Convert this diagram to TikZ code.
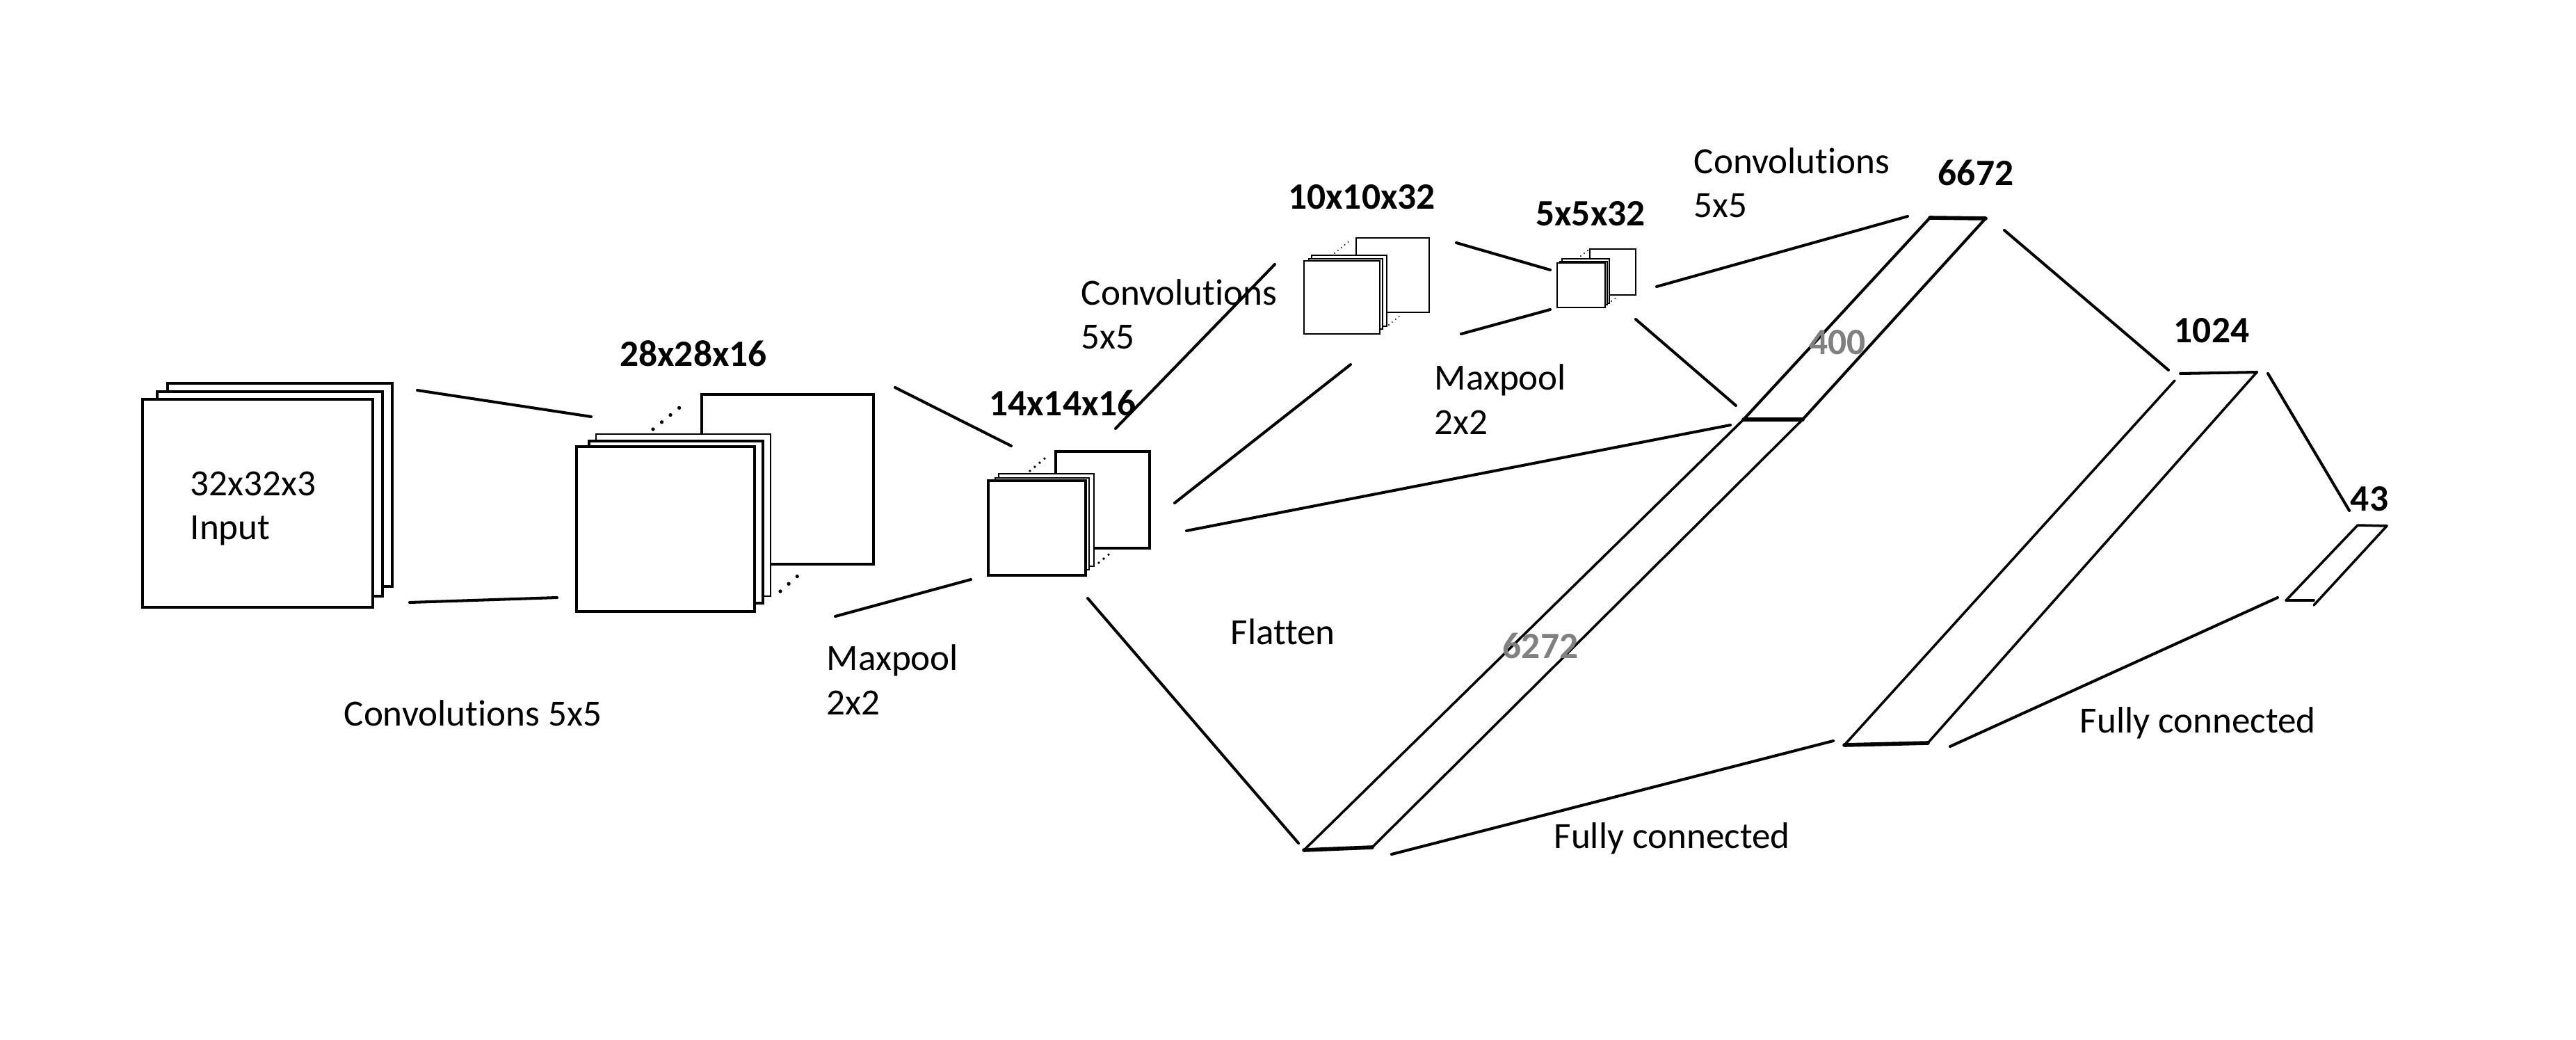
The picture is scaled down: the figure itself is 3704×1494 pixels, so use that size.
\documentclass[tikz,border=0pt]{standalone}
\usepackage{fontspec}
\setmainfont{Carlito}[Ligatures=CommonOff]
\definecolor{sizegray}{RGB}{128,128,128}
\tikzset{
  sheet/.style={draw=black,fill=white,line width=1.2pt},
  thinsheet/.style={draw=black,fill=white,line width=0.75pt},
  tinysheet/.style={draw=black,fill=white,line width=0.45pt},
  conn/.style={draw=black,line width=1.15pt,line cap=round},
  slim/.style={draw=black,line width=1pt,line cap=round},
  bar/.style={draw=black,line width=1.6pt,line cap=round},
  bigdots/.style={draw=black,line width=1.5pt,line cap=round,dash pattern=on 0pt off 4.6pt},
  middots/.style={draw=black,line width=1.1pt,line cap=round,dash pattern=on 0pt off 2.6pt},
  tinydots/.style={draw=black,line width=0.6pt,line cap=round,dash pattern=on 0pt off 1.8pt},
  opname/.style={font=\fontsize{15.1}{18}\selectfont,align=left,anchor=west,inner sep=0pt},
  size/.style={font=\fontsize{15.2}{18}\selectfont\bfseries,inner sep=0pt},
  flatsize/.style={size,text=sizegray}
}

\begin{document}
\begin{tikzpicture}[x=0.01cm,y=-0.01cm]
  \useasboundingbox (0,0) rectangle (3704,1494);

  \coordinate (InA) at (600,561);
  \coordinate (InB) at (850,599);
  \coordinate (InC) at (589,866);
  \coordinate (InD) at (801,859);
  \coordinate (PoolA) at (1287,557);
  \coordinate (PoolB) at (1454,641);
  \coordinate (PoolC) at (1201,886);
  \coordinate (PoolD) at (1396,833);
  \coordinate (ConvA) at (1604,616);
  \coordinate (ConvB) at (1833,380);
  \coordinate (ConvC) at (1689,723);
  \coordinate (ConvD) at (1942,524);
  \coordinate (MaxA) at (2094,349);
  \coordinate (MaxB) at (2229,388);
  \coordinate (MaxC) at (2101,480);
  \coordinate (MaxD) at (2229,445);
  \coordinate (LastA) at (2382,412);
  \coordinate (LastB) at (2743,311);
  \coordinate (LastC) at (2352,459);
  \coordinate (LastD) at (2496,583);
  \coordinate (FlatA) at (1706,763);
  \coordinate (FlatB) at (2488,611);
  \coordinate (FlatC) at (1564,860);
  \coordinate (FlatD) at (1867,1212);
  \coordinate (FcA) at (2882,331);
  \coordinate (FcB) at (3118,532);
  \coordinate (FcC) at (2001,1228);
  \coordinate (FcD) at (2636,1065);
  \coordinate (OutA) at (3261,537);
  \coordinate (OutB) at (3378,734);
  \coordinate (OutC) at (2804,1073);
  \coordinate (OutD) at (3275,859);

  \coordinate (TopL) at (2775,313);
  \coordinate (TopR) at (2855,314);
  \coordinate (MidL) at (2507,603);
  \coordinate (MidR) at (2592,603);
  \coordinate (LowL) at (1875,1222);
  \coordinate (LowR) at (1973,1218);
  \coordinate (HidL) at (2652,1071);
  \coordinate (HidR) at (2772,1068);
  \coordinate (HidTL) at (3135,537);
  \coordinate (HidTR) at (3245,535);
  \coordinate (HidUp) at (3127,547);
  \coordinate (EndL) at (3287,863);
  \coordinate (EndR) at (3327,863);
  \coordinate (EndTL) at (3390,755);
  \coordinate (EndTR) at (3432,756);
  \coordinate (EndTip) at (3327,870);

  \draw[sheet] (241,551) rectangle (564,843);
  \draw[sheet] (226,563) rectangle (550,857);
  \draw[sheet] (205,574) rectangle (536,873);

  \draw[bigdots] (939,617)--(988,577);
  \draw[bigdots] (1122,850)--(1157,819);
  \draw[sheet] (1009,567) rectangle (1256,811);
  \draw[thinsheet] (857,624) rectangle (1108,857);
  \draw[sheet] (847,634) rectangle (1097,867);
  \draw[sheet] (829,642) rectangle (1085,879);

  \draw[middots] (1481,677)--(1508,654);
  \draw[middots] (1580,809)--(1599,793);
  \draw[sheet] (1518,649) rectangle (1653,788);
  \draw[thinsheet] (1436,681) rectangle (1573,814);
  \draw[thinsheet] (1431,687) rectangle (1566,819);
  \draw[sheet] (1421,691) rectangle (1561,827);

  \draw[tinydots] (1919,364)--(1942,345);
  \draw[tinydots] (1997,467)--(2014,453);
  \draw[thinsheet] (1950,342) rectangle (2055,449);
  \draw[thinsheet] (1886,367) rectangle (1994,469);
  \draw[tinysheet] (1882,372) rectangle (1988,473);
  \draw[thinsheet] (1875,375) rectangle (1984,480);

  \draw[tinydots] (2268,372)--(2283,360);
  \draw[tinydots] (2317,433)--(2327,426);
  \draw[tinysheet] (2286,358) rectangle (2352,424);
  \draw[tinysheet] (2246,372) rectangle (2314,436);
  \draw[tinysheet] (2243,376) rectangle (2311,438);
  \draw[tinysheet] (2239,378) rectangle (2308,442);

  \draw[conn] (InA)--(InB);
  \draw[conn] (InC)--(InD);
  \draw[conn] (PoolA)--(PoolB);
  \draw[conn] (PoolC)--(PoolD);
  \draw[conn] (ConvA)--(ConvB);
  \draw[conn] (ConvC)--(ConvD);
  \draw[conn] (MaxA)--(MaxB);
  \draw[conn] (MaxC)--(MaxD);
  \draw[conn] (LastA)--(LastB);
  \draw[conn] (LastC)--(LastD);
  \draw[conn] (FlatA)--(FlatB);
  \draw[conn] (FlatC)--(FlatD);
  \draw[conn] (FcA)--(FcB);
  \draw[conn] (FcC)--(FcD);
  \draw[conn] (OutA)--(OutB);
  \draw[conn] (OutC)--(OutD);

  \draw[bar] (TopL)--(TopR);
  \draw[conn] (TopL)--(MidL);
  \draw[conn] (TopR)--(MidR);
  \draw[bar] (MidL)--(MidR);
  \draw[slim] (MidL)--(LowL);
  \draw[slim] (MidR)--(LowR);
  \draw[bar] (LowL)--(LowR);

  \draw[bar] (HidL)--(HidR);
  \draw[slim] (HidL)--(HidUp);
  \draw[slim] (HidR)--(HidTR);
  \draw[conn] (HidTL)--(HidTR);

  \draw[slim] (EndL)--(EndR);
  \draw[slim] (EndL)--(EndTL);
  \draw[slim] (EndTL)--(EndTR);
  \draw[slim] (EndTR)--(EndTip);

  \node[opname] (inputlbl) at (273,731) {32x32x3\\Input};
  \node[opname] (conva) at (494,1025) {Convolutions 5x5};
  \node[opname] (poola) at (1188,977) {Maxpool\\2x2};
  \node[opname] (convb) at (1554,452) {Convolutions\\5x5};
  \node[opname] (poolb) at (2062,574) {Maxpool\\2x2};
  \node[opname] (convc) at (2435,263) {Convolutions\\5x5};
  \node[opname] (flattenlbl) at (1769,908) {Flatten};
  \node[opname] (fca) at (2234,1205) {Fully connected};
  \node[opname] (fcb) at (2990,1039) {Fully connected};

  \node[size] (sizea) at (997,508) {28x28x16};
  \node[size] (sizeb) at (1528,579) {14x14x16};
  \node[size] (sizec) at (1958,283) {10x10x32};
  \node[size] (sized) at (2287,307) {5x5x32};
  \node[size] (sizee) at (2841,248) {6672};
  \node[size] (sizef) at (3180,475) {1024};
  \node[size] (sizeg) at (3407,717) {43};
  \node[flatsize] (flata) at (2642,492) {400};
  \node[flatsize] (flatb) at (2215,928) {6272};
\end{tikzpicture}
\end{document}
